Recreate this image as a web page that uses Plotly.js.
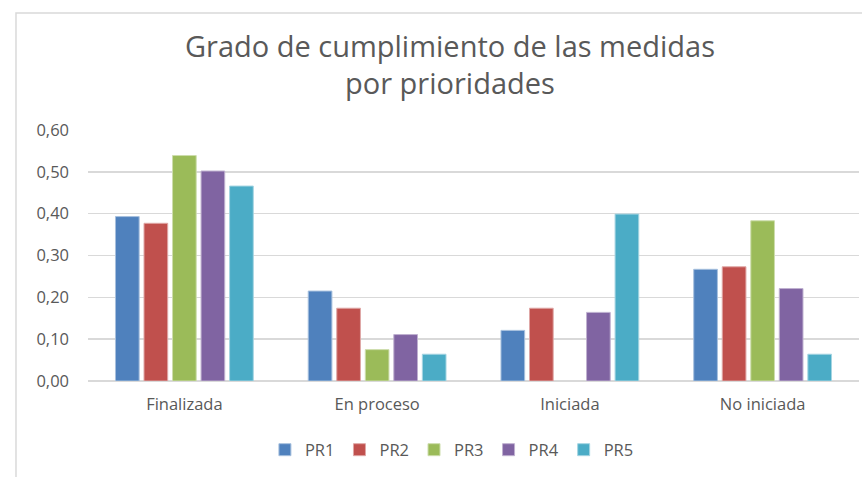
<!DOCTYPE html>
<html>
<head>
<meta charset="utf-8">
<script src="https://cdn.plot.ly/plotly-3.0.1.min.js"></script>
<style>html,body{margin:0;padding:0;background:#fff;}#chart{width:862px;height:477px;}</style>
</head>
<body>
<div id="chart"></div>
<script>
const categories = ["Finalizada", "En proceso", "Iniciada", "No iniciada"];
const seriesNames = ["PR1", "PR2", "PR3", "PR4", "PR5"];
const PR1 = [0.393, 0.215, 0.121, 0.267];
const PR2 = [0.377, 0.174, 0.174, 0.273];
const PR3 = [0.539, 0.075, 0.000, 0.383];
const PR4 = [0.502, 0.111, 0.164, 0.221];
const PR5 = [0.466, 0.064, 0.399, 0.064];
const yTicks = [0, 0.1, 0.2, 0.3, 0.4, 0.5, 0.6];

const values = [PR1, PR2, PR3, PR4, PR5];
const colors = ["#4F81BD", "#C0504D", "#9BBB59", "#8064A2", "#4BACC6"];
const edge = ["#A7C0DE", "#DFA7A6", "#CDDDAC", "#BFB1D0", "#A5D5E2"];
const font = "'Open Sans', sans-serif";

const traces = seriesNames.map((n, i) => ({
  type: "bar",
  name: n,
  x: categories,
  y: values[i],
  marker: {color: colors[i], line: {color: edge[i], width: values[i].map(v => v > 0 ? 1 : 0)}},
  hoverinfo: "none"
}));

const layout = {
  width: 862, height: 477,
  margin: {l: 88, r: 3, t: 130, b: 96},
  paper_bgcolor: "#ffffff",
  plot_bgcolor: "#ffffff",
  separators: ",.",
  font: {family: font, color: "#595959", size: 16},
  title: {
    text: "Grado de cumplimiento de las medidas<br>por prioridades",
    font: {family: font, size: 29, color: "#595959"},
    x: 0.522, xanchor: "center", xref: "container",
    y: 0.881, yanchor: "top", yref: "container"
  },
  bargap: 0.26,
  bargroupgap: 0.17,
  xaxis: {
    showgrid: false, zeroline: false, showline: false,
    ticks: "", tickfont: {size: 16.5, color: "#595959"},
    ticklabelstandoff: 11
  },
  yaxis: {
    range: [0, 0.6], tickvals: yTicks, tickformat: ".2f",
    showgrid: true, gridcolor: "#D9D9D9", gridwidth: 1.5,
    zeroline: true, zerolinecolor: "#D9D9D9", zerolinewidth: 1.5,
    showline: false, ticks: "", ticklabelstandoff: 18,
    tickfont: {size: 16.5, color: "#595959"}
  },
  showlegend: true,
  legend: {
    orientation: "h", x: 0.472, xanchor: "center", y: -0.205, yanchor: "top",
    font: {size: 16.5, color: "#595959"},
    itemwidth: 30, tracegroupgap: 0, traceorder: "normal"
  },
  shapes: [{
    type: "rect", xref: "paper", yref: "paper",
    x0: -0.0934, x1: 1.02, y0: -0.5, y1: 1.466,
    line: {color: "#D9D9D9", width: 1.5}, fillcolor: "rgba(0,0,0,0)", layer: "below"
  }]
};

Plotly.newPlot("chart", traces, layout, {displayModeBar: false, staticPlot: true});
</script>
</body>
</html>
